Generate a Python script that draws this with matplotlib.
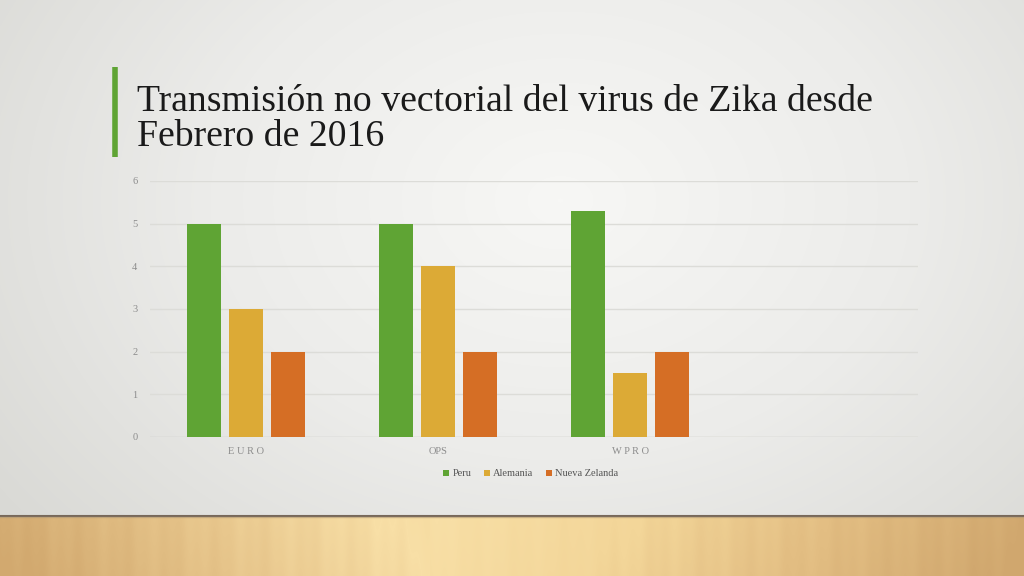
import numpy as np
import matplotlib.pyplot as plt
from matplotlib.colors import LinearSegmentedColormap

categories = ["E U R O", "OPS", "W P R O", ""]
series = ["Peru", "Alemania", "Nueva Zelanda"]
peru = [5, 5, 5.3]
alemania = [3, 4, 1.5]
nueva_zelanda = [2, 2, 2]
colors = ["#5fa434", "#dcaa36", "#d56e25"]

serif = "Liberation Serif"

fig = plt.figure(figsize=(10.24, 5.76), dpi=100)

# slide background: soft radial gradient
bg = fig.add_axes([0, 0, 1, 1], zorder=-10)
yy, xx = np.mgrid[0:576, 0:1024]
r = np.sqrt(((xx - 560) / 700.0) ** 2 + ((yy - 200) / 520.0) ** 2)
shade = np.clip(r, 0, 1)
bg_cmap = LinearSegmentedColormap.from_list("bg", ["#f7f7f5", "#ececea", "#d9d9d5"])
bg.imshow(shade, cmap=bg_cmap, extent=[0, 1024, 576, 0], aspect="auto")

# wooden floor
wood_cmap = LinearSegmentedColormap.from_list(
    "wood", ["#d2a96f", "#e6c48a", "#f8dfa6", "#f3d699", "#e2bd82", "#d0a76e"])
wx = np.linspace(0, 1, 1024)
wy = np.linspace(0, 1, 61)[:, None]
grain = 0.015 * np.sin(wx * 140) + 0.01 * np.sin(wx * 377 + 1.3)
wood = np.clip(wx[None, :] + grain[None, :] + 0.04 * (wy - 0.5) * np.sign(wx - 0.42), 0, 1)
bg.imshow(wood, cmap=wood_cmap, extent=[0, 1024, 576, 515], aspect="auto")
bg.plot([0, 1024], [515.5, 515.5], color="#77685a", lw=1.5)
bg.plot([0, 1024], [517, 517], color="#b09a78", lw=1, alpha=0.6)
bg.set_xlim(0, 1024)
bg.set_ylim(576, 0)
bg.axis("off")

# title with green accent bar
bg.plot([114.5, 114.5], [67, 157], color="#5fa434", lw=4, solid_capstyle="butt")
fig.text(137 / 1024, 1 - 119 / 576, "Transmisión no vectorial del virus de Zika desde\nFebrero de 2016",
         fontsize=27.2, family=serif, color="#1a1a1a", va="center", ha="left", linespacing=1.0)

ax = fig.add_axes([150 / 1024, 1 - 437 / 576, 768 / 1024, 256 / 576])
ax.patch.set_alpha(0)
x = np.arange(len(categories) - 1)
w = 34 / 192
step = 42 / 192
for i, (vals, name) in enumerate(zip([peru, alemania, nueva_zelanda], series)):
    ax.bar(x + (i - 1) * step, vals, width=w, color=colors[i], label=name, zorder=3)

ax.set_xlim(-0.5, len(categories) - 0.5)
ax.set_ylim(0, 6)
ax.set_yticks(range(7))
ax.set_xticks(np.arange(len(categories)))
ax.set_xticklabels(categories)
ax.grid(axis="y", color="#dcdcd8", lw=1, zorder=0)
for s in ax.spines.values():
    s.set_visible(False)
ax.tick_params(length=0, labelsize=7.5, colors="#8c8c8c")
ax.tick_params(axis="y", pad=9)
ax.tick_params(axis="x", pad=7)
for lab in ax.get_xticklabels() + ax.get_yticklabels():
    lab.set_family(serif)
ax.axhline(0, color="#d4d4d0", lw=1, zorder=2)

leg = ax.legend(loc="upper center", bbox_to_anchor=(0.496, -0.09), ncol=3, frameon=False,
                handlelength=0.55, handleheight=0.55, handletextpad=0.35, columnspacing=1.2,
                prop={"family": serif, "size": 7.5})
for t in leg.get_texts():
    t.set_color("#555555")

fig.savefig("out.png", dpi=100)
